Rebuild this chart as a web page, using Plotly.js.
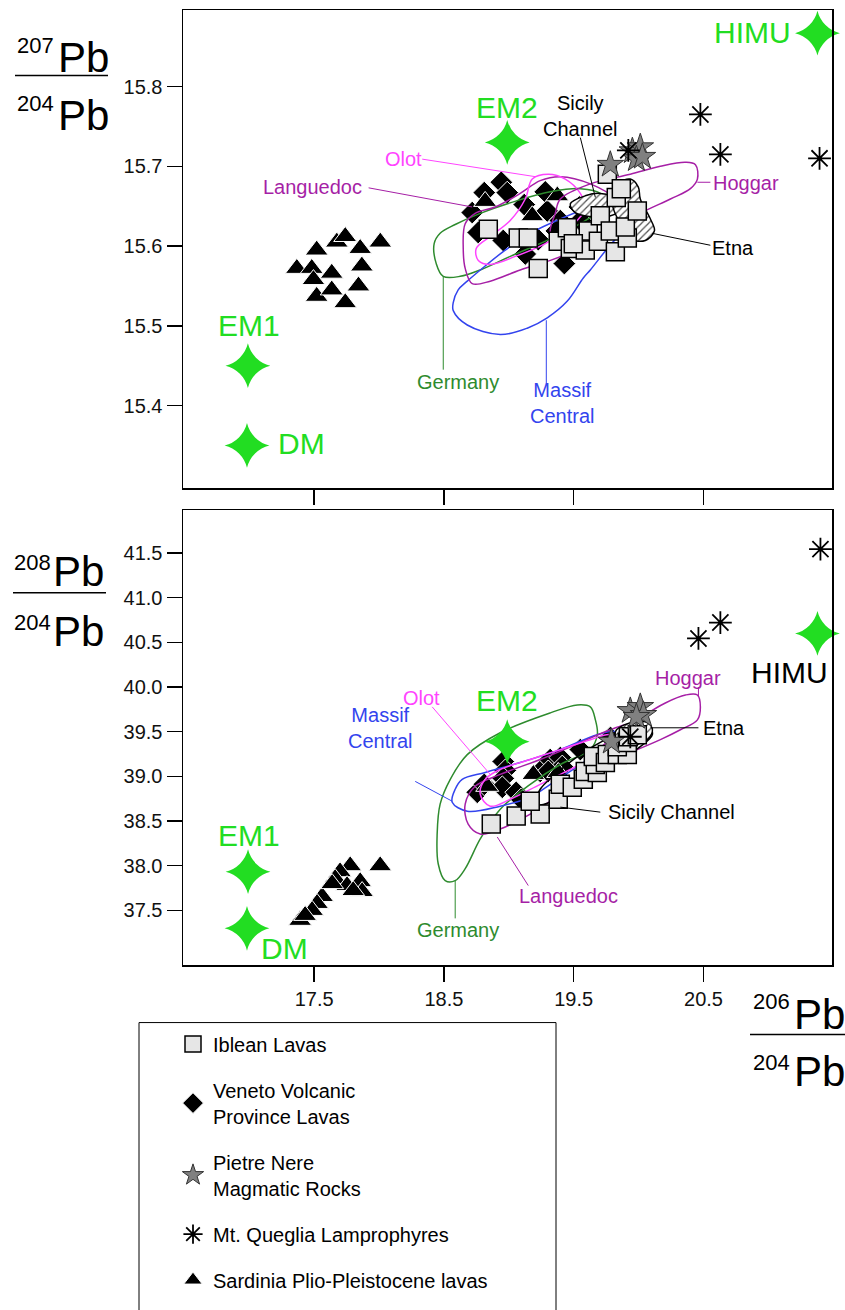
<!DOCTYPE html>
<html><head><meta charset="utf-8">
<script src="https://cdn.plot.ly/plotly-3.0.1.min.js"></script>
<style>body{margin:0;background:#fff}#chart{width:845px;height:1310px}</style>
</head><body><div id="chart"></div>
<script>
// ---------- DATA: top panel (207Pb/204Pb vs 206Pb/204Pb) ----------
const ibleanTopX = [18.842,19.073,19.150,19.227,19.381,19.451,19.474,19.589,19.612,19.705,19.690,19.782,19.821,19.828,19.759,19.913,19.898,19.867,19.990,19.497];
const ibleanTopY = [15.621,15.610,15.610,15.572,15.606,15.623,15.597,15.595,15.619,15.638,15.606,15.619,15.593,15.661,15.690,15.610,15.624,15.672,15.644,15.603];
const venetoTopX = [18.942,18.988,18.811,18.718,18.764,18.957,19.127,19.119,19.281,19.296,19.397,19.543,19.551,19.428,19.227,19.366];
const venetoTopY = [15.680,15.667,15.667,15.642,15.617,15.607,15.590,15.652,15.668,15.644,15.632,15.649,15.632,15.578,15.608,15.619];
const sardTopX = [17.520,17.675,17.740,17.855,18.010,17.367,17.482,17.636,17.868,17.520,17.636,17.842,17.740,17.495,18.818,19.181,19.374];
const sardTopY = [15.595,15.605,15.612,15.597,15.605,15.572,15.572,15.566,15.575,15.537,15.545,15.550,15.529,15.558,15.656,15.638,15.663];
const pietreTopX = [19.782,19.952,20.013,19.983,20.029];
const pietreTopY = [15.702,15.719,15.724,15.709,15.712];
const quegliaTopX = [19.921,20.476,20.630,21.394];
const quegliaTopY = [15.720,15.765,15.715,15.710];

// ---------- DATA: bottom panel (208Pb/204Pb vs 206Pb/204Pb) ----------
const ibleanBotX = [18.865,19.057,19.242,19.165,19.381,19.397,19.489,19.574,19.589,19.682,19.666,19.651,19.744,19.759,19.836,19.913,19.836,19.913,19.921,19.990];
const ibleanBotY = [38.467,38.556,38.578,38.722,38.744,38.911,38.878,38.967,39.056,39.044,39.133,39.222,39.156,39.244,39.244,39.244,39.333,39.378,39.444,39.467];
const venetoBotX = [18.757,18.811,18.957,18.973,18.957,18.950,19.057,19.096,19.242,19.319,19.397,19.412,19.551,19.304,19.782];
const venetoBotY = [38.822,38.911,39.167,39.067,38.978,38.878,38.822,38.744,39.056,39.189,39.211,39.111,39.300,39.056,39.433];
const sardBotX = [18.009,17.778,17.700,17.662,17.855,17.870,17.754,17.562,17.523,17.485,17.392,17.431,17.801,17.639,18.834,19.189,19.381];
const sardBotY = [38.000,38.000,37.933,37.856,37.822,37.711,37.778,37.656,37.578,37.500,37.389,37.444,37.722,37.800,38.889,39.022,39.044];
const pietreBotX = [19.936,20.013,20.037,19.790,19.983];
const pietreBotY = [39.733,39.778,39.689,39.389,39.667];
const quegliaBotX = [19.936,20.461,20.630,21.401];
const quegliaBotY = [39.444,40.544,40.722,41.544];

// ---------- Mantle end-members ----------
const mantleNames = ['EM1','DM','EM2','HIMU'];
const mantleTopX = [16.990,16.983,18.988,21.378];
const mantleTopY = [15.450,15.350,15.730,15.867];
const mantleBotX = [16.991,16.983,18.988,21.378];
const mantleBotY = [37.933,37.300,39.389,40.600];

// ---------- Fields (outlines) top ----------
const germanyTopX = [18.495,18.441,18.425,18.471,18.587,18.780,19.065,19.320,19.551,19.705,19.744,19.589,19.320,19.011,18.780,18.626,18.495];
const germanyTopY = [15.562,15.578,15.603,15.616,15.627,15.641,15.657,15.668,15.672,15.666,15.651,15.632,15.609,15.587,15.570,15.562,15.562];
const massifTopX = [18.572,18.610,18.680,18.818,18.957,19.165,19.397,19.705,19.898,19.975,19.859,19.759,19.628,19.574,19.451,19.296,19.142,18.934,18.680,18.572,18.572];
const massifTopY = [15.529,15.545,15.556,15.575,15.593,15.616,15.634,15.653,15.659,15.647,15.616,15.597,15.570,15.560,15.531,15.510,15.497,15.489,15.501,15.519,15.529];
const olotTopX = [18.765,18.749,18.857,19.011,19.127,19.181,19.304,19.435,19.551,19.589,19.474,19.281,19.050,18.857,18.765];
const olotTopY = [15.582,15.597,15.612,15.632,15.659,15.684,15.690,15.684,15.666,15.647,15.624,15.603,15.587,15.577,15.582];
const langTopX = [18.664,18.649,18.664,18.718,18.857,19.088,19.320,19.551,19.782,19.898,19.821,19.628,19.397,19.242,19.088,18.895,18.741,18.664];
const langTopY = [15.628,15.597,15.572,15.553,15.556,15.570,15.582,15.597,15.616,15.634,15.659,15.678,15.687,15.682,15.666,15.649,15.641,15.628];
const hoggarTopX = [19.397,19.628,19.936,20.168,20.361,20.438,20.453,20.399,20.245,20.013,19.859,19.705,19.551,19.397,19.320,19.358,19.397];
const hoggarTopY = [15.659,15.678,15.690,15.700,15.705,15.702,15.684,15.672,15.659,15.641,15.624,15.612,15.603,15.603,15.616,15.641,15.659];
const etnaTopX = [19.844,19.936,19.998,20.013,20.091,20.122,20.052,19.936,19.859,19.798,19.844];
const etnaTopY = [15.678,15.684,15.674,15.659,15.634,15.619,15.607,15.609,15.628,15.653,15.678];
const sicilyTopX = [19.474,19.589,19.705,19.844,19.875,19.767,19.628,19.512,19.474];
const sicilyTopY = [15.653,15.663,15.666,15.659,15.647,15.637,15.637,15.642,15.653];

// ---------- Fields (outlines) bottom ----------
const germanyBotX = [18.510,18.456,18.448,18.471,18.549,18.680,18.934,19.320,19.528,19.628,19.667,19.682,19.628,19.397,19.165,18.934,18.780,18.664,18.587,18.510];
const germanyBotY = [37.833,38.022,38.356,38.689,38.967,39.244,39.489,39.711,39.800,39.778,39.633,39.467,39.300,39.133,38.911,38.633,38.300,37.967,37.833,37.833];
const massifBotX = [18.564,18.587,18.641,18.818,19.088,19.397,19.682,19.821,19.782,19.551,19.320,19.165,18.934,18.680,18.564];
const massifBotY = [38.711,38.856,38.967,39.044,39.156,39.300,39.467,39.500,39.356,39.133,38.911,38.767,38.667,38.611,38.711];
const olotBotX = [18.780,18.818,18.934,19.165,19.397,19.628,19.782,19.821,19.705,19.474,19.242,19.011,18.857,18.780];
const olotBotY = [38.800,38.967,39.078,39.189,39.300,39.411,39.467,39.378,39.244,39.078,38.911,38.744,38.667,38.800];
const langBotX = [18.687,18.664,18.741,18.934,19.242,19.551,19.782,19.936,20.013,19.859,19.628,19.397,19.165,18.934,18.780,18.687];
const langBotY = [38.467,38.689,38.889,39.022,39.189,39.378,39.522,39.578,39.467,39.244,39.022,38.800,38.578,38.411,38.356,38.467];
const hoggarBotX = [19.782,19.898,20.052,20.206,20.361,20.453,20.476,20.453,20.322,20.168,19.936,19.744,19.667,19.782];
const hoggarBotY = [39.411,39.522,39.689,39.822,39.911,39.911,39.778,39.633,39.522,39.411,39.267,39.156,39.244,39.411];
const sicilyBotX = [19.204,19.242,19.358,19.551,19.744,19.936,20.075,20.106,20.013,19.859,19.667,19.474,19.320,19.204];
const sicilyBotY = [38.689,38.856,39.022,39.244,39.411,39.544,39.578,39.467,39.333,39.189,39.022,38.856,38.711,38.689];
const etnaBotX = [19.821,19.936,20.052,20.106,20.075,19.975,19.859,19.821];
const etnaBotY = [39.500,39.600,39.611,39.533,39.422,39.356,39.356,39.500];

// ---------- Axis ticks ----------
const xTicks = [17.5,18.5,19.5,20.5];
const yTopTicks = [15.4,15.5,15.6,15.7,15.8];
const yBotTicks = [37.5,38.0,38.5,39.0,39.5,40.0,40.5,41.0,41.5];

// ---------- Legend names ----------
const seriesNames = ['Iblean Lavas','Veneto Volcanic<br>Province Lavas','Pietre Nere<br>Magmatic Rocks','Mt. Queglia Lamprophyres','Sardinia Plio-Pleistocene lavas'];

// ---------- Styles ----------
const FONT = 'Liberation Sans, Arial, sans-serif';
const GREEN = '#22dd22';
const C = {germany:'#2e8b2e', massif:'#3344ee', olot:'#ff44ff', lang:'#a61fa6', hoggar:'#a61fa6', black:'#000'};
const mk = {
  iblean:{symbol:'square', size:18, color:'#e6e6e6', line:{color:'#000', width:1.5}},
  veneto:{symbol:'diamond', size:17.5, color:'#000', line:{color:'#fff', width:1}},
  sard:{symbol:'triangle-up', size:20, color:'#000', line:{color:'#fff', width:1}},
  pietre:{symbol:'star', size:20, color:'#808080', line:{color:'#333', width:1}},
  queglia:{symbol:'asterisk-open', size:19, color:'#000', line:{color:'#000', width:1.8}},
  mantle:{symbol:'star-diamond', size:32, color:GREEN, line:{width:0}}
};

function pts(x, y, marker, name, group, rank, xa, ya, legend){
  return {type:'scatter', mode:'markers', x:x, y:y, marker:marker, name:name,
    legendgroup:group, legendrank:rank, showlegend:legend, xaxis:xa, yaxis:ya, hoverinfo:'skip'};
}
function field(x, y, color, xa, ya, hatch){
  const t = {type:'scatter', mode:'lines', x:x, y:y, line:{color:color, width:1.5, shape:'spline', smoothing:1},
    showlegend:false, xaxis:xa, yaxis:ya, hoverinfo:'skip'};
  if (hatch){ t.fill='toself'; t.fillcolor='rgba(255,255,255,0)'; t.fillpattern={shape:'/', fgcolor:'#555', bgcolor:'#fff', size:5, solidity:0.25}; }
  return t;
}

const traces = [
  pts(venetoTopX, venetoTopY, mk.veneto, seriesNames[1], 'v', 2, 'x', 'y', true),
  pts(sardTopX, sardTopY, mk.sard, seriesNames[4], 's', 5, 'x', 'y', true),
  field(germanyTopX, germanyTopY, C.germany, 'x', 'y'),
  field(massifTopX, massifTopY, C.massif, 'x', 'y'),
  field(langTopX, langTopY, C.lang, 'x', 'y'),
  field(olotTopX, olotTopY, C.olot, 'x', 'y'),
  field(hoggarTopX, hoggarTopY, C.hoggar, 'x', 'y'),
  field(sicilyTopX, sicilyTopY, C.black, 'x', 'y', true),
  field(etnaTopX, etnaTopY, C.black, 'x', 'y', true),
  pts(ibleanTopX, ibleanTopY, mk.iblean, seriesNames[0], 'i', 1, 'x', 'y', true),
  pts(pietreTopX, pietreTopY, mk.pietre, seriesNames[2], 'p', 3, 'x', 'y', true),
  pts(quegliaTopX, quegliaTopY, mk.queglia, seriesNames[3], 'q', 4, 'x', 'y', true),
  Object.assign(pts(mantleTopX, mantleTopY, mk.mantle, 'mantle', 'm', 9, 'x', 'y', false), {cliponaxis:false, text:mantleNames}),
  pts(venetoBotX, venetoBotY, mk.veneto, seriesNames[1], 'v', 2, 'x2', 'y2', false),
  pts(sardBotX, sardBotY, mk.sard, seriesNames[4], 's', 5, 'x2', 'y2', false),
  field(germanyBotX, germanyBotY, C.germany, 'x2', 'y2'),
  field(massifBotX, massifBotY, C.massif, 'x2', 'y2'),
  field(langBotX, langBotY, C.lang, 'x2', 'y2'),
  field(olotBotX, olotBotY, C.olot, 'x2', 'y2'),
  field(hoggarBotX, hoggarBotY, C.hoggar, 'x2', 'y2'),
  field(sicilyBotX, sicilyBotY, C.black, 'x2', 'y2'),
  field(etnaBotX, etnaBotY, C.black, 'x2', 'y2', true),
  pts(ibleanBotX, ibleanBotY, mk.iblean, seriesNames[0], 'i', 1, 'x2', 'y2', false),
  pts(pietreBotX, pietreBotY, mk.pietre, seriesNames[2], 'p', 3, 'x2', 'y2', false),
  pts(quegliaBotX, quegliaBotY, mk.queglia, seriesNames[3], 'q', 4, 'x2', 'y2', false),
  Object.assign(pts(mantleBotX, mantleBotY, mk.mantle, 'mantle', 'm', 9, 'x2', 'y2', false), {cliponaxis:false, text:mantleNames})
];

// ---------- Layout helpers (positions only) ----------
const L = 183, R = 832, T = 10, B = 972;
const px = p => (p - L) / (R - L);
const py = p => (B - p) / (B - T);

function lbl(text, x, y, color, size, xr, yr){
  return {text:text, x:x, y:y, xref:xr, yref:yr, showarrow:false,
    font:{family:FONT, size:size, color:color}, xanchor:'center', yanchor:'middle'};
}
function ptxt(text, xpx, ypx, size){
  return {text:text, x:px(xpx), y:py(ypx), xref:'paper', yref:'paper', showarrow:false,
    font:{family:FONT, size:size, color:'#000'}, xanchor:'center', yanchor:'middle'};
}
function lead(x0,y0,x1,y1,color,xr,yr){
  return {type:'line', x0:x0, y0:y0, x1:x1, y1:y1, xref:xr, yref:yr, line:{color:color, width:1}};
}
function pline(x0px, x1px, ypx){
  return {type:'line', x0:px(x0px), x1:px(x1px), y0:py(ypx), y1:py(ypx), xref:'paper', yref:'paper', line:{color:'#000', width:1.5}};
}

const FS = 20;
const annotations = [
  lbl('EM1', 17.0, 15.501, GREEN, 30, 'x', 'y'),
  lbl('DM', 17.40, 15.353, GREEN, 30, 'x', 'y'),
  lbl('EM2', 18.988, 15.774, GREEN, 30, 'x', 'y'),
  lbl('HIMU', 20.877, 15.868, GREEN, 30, 'x', 'y'),
  lbl('Olot', 18.19, 15.709, C.olot, FS, 'x', 'y'),
  lbl('Languedoc', 17.49, 15.674, C.lang, FS, 'x', 'y'),
  lbl('Sicily<br>Channel', 19.551, 15.763, '#000', FS, 'x', 'y'),
  lbl('Hoggar', 20.83, 15.679, C.hoggar, FS, 'x', 'y'),
  lbl('Etna', 20.73, 15.597, '#000', FS, 'x', 'y'),
  lbl('Germany', 18.610, 15.430, C.germany, FS, 'x', 'y'),
  lbl('Massif<br>Central', 19.412, 15.403, C.massif, FS, 'x', 'y'),
  lbl('EM1', 17.0, 38.333, GREEN, 30, 'x2', 'y2'),
  lbl('DM', 17.269, 37.078, GREEN, 30, 'x2', 'y2'),
  lbl('EM2', 18.988, 39.844, GREEN, 30, 'x2', 'y2'),
  lbl('HIMU', 21.162, 40.167, '#000', 30, 'x2', 'y2'),
  lbl('Olot', 18.33, 39.878, C.olot, FS, 'x2', 'y2'),
  lbl('Massif<br>Central', 18.009, 39.544, C.massif, FS, 'x2', 'y2'),
  lbl('Hoggar', 20.38, 40.10, C.hoggar, FS, 'x2', 'y2'),
  lbl('Etna', 20.66, 39.544, '#000', FS, 'x2', 'y2'),
  lbl('Sicily Channel', 20.252, 38.60, '#000', FS, 'x2', 'y2'),
  lbl('Languedoc', 19.458, 37.656, C.lang, FS, 'x2', 'y2'),
  lbl('Germany', 18.610, 37.278, C.germany, FS, 'x2', 'y2'),
  ptxt('207', 35, 46, 22), ptxt('Pb', 83, 58, 42), ptxt('204', 35, 104, 22), ptxt('Pb', 83, 116, 42),
  ptxt('208', 32, 567, 22), ptxt('Pb', 78, 576, 42), ptxt('204', 32, 627, 22), ptxt('Pb', 78, 636, 42),
  ptxt('206', 771, 1009, 22), ptxt('Pb', 819, 1022, 42), ptxt('204', 771, 1070, 22), ptxt('Pb', 819, 1079, 42)
];

const shapes = [
  lead(18.495,15.562,18.495,15.445,C.germany,'x','y'),
  lead(19.289,15.507,19.289,15.426,C.massif,'x','y'),
  lead(18.333,15.709,19.204,15.687,C.olot,'x','y'),
  lead(17.92,15.673,18.718,15.649,C.lang,'x','y'),
  lead(19.551,15.736,19.667,15.661,'#000','x','y'),
  lead(20.453,15.680,20.553,15.680,C.hoggar,'x','y'),
  lead(20.104,15.616,20.553,15.601,'#000','x','y'),
  lead(18.587,37.833,18.587,37.411,C.germany,'x2','y2'),
  lead(18.279,38.944,18.564,38.722,C.massif,'x2','y2'),
  lead(18.41,39.778,18.857,39.022,C.olot,'x2','y2'),
  lead(18.911,38.322,19.150,37.778,C.lang,'x2','y2'),
  lead(19.397,38.656,19.705,38.60,'#000','x2','y2'),
  lead(20.091,39.544,20.461,39.544,'#000','x2','y2'),
  lead(20.461,39.889,20.461,40.0,C.hoggar,'x2','y2'),
  pline(15, 108, 76), pline(13, 106, 597), pline(750, 845, 1042),
  {type:'rect', xref:'paper', yref:'paper', x0:px(139), x1:px(556), y0:py(1330), y1:py(1030), line:{color:'#000', width:1}}
];

const axBase = {range:[16.49,21.49], tickvals:xTicks, ticks:'outside', ticklen:15, tickwidth:1.5, tickcolor:'#000',
  showline:true, mirror:true, linecolor:'#000', linewidth:1.5, showgrid:false, zeroline:false,
  tickfont:{family:FONT, size:20, color:'#111'}};
const layout = {
  width:845, height:1310, paper_bgcolor:'#fff', plot_bgcolor:'#fff',
  margin:{l:L, r:845-R, t:T, b:1310-B},
  font:{family:FONT},
  xaxis:Object.assign({}, axBase, {anchor:'y', showticklabels:false}),
  xaxis2:Object.assign({}, axBase, {anchor:'y2'}),
  yaxis:Object.assign({}, axBase, {domain:[py(492),1], range:[15.296,15.896], tickvals:yTopTicks, ticktext:yTopTicks.map(v=>v.toFixed(1)), anchor:'x'}),
  yaxis2:Object.assign({}, axBase, {domain:[0,py(514)], range:[36.889,41.978], tickvals:yBotTicks, ticktext:yBotTicks.map(v=>v.toFixed(1)), anchor:'x2'}),
  showlegend:true,
  legend:{x:px(173), y:py(1032), xanchor:'left', yanchor:'top', traceorder:'grouped', tracegroupgap:17,
    font:{family:FONT, size:20, color:'#000'}, bgcolor:'rgba(0,0,0,0)', borderwidth:0, itemsizing:'trace'},
  annotations:annotations, shapes:shapes
};

Plotly.newPlot('chart', traces, layout, {displayModeBar:false, staticPlot:true});
</script></body></html>
